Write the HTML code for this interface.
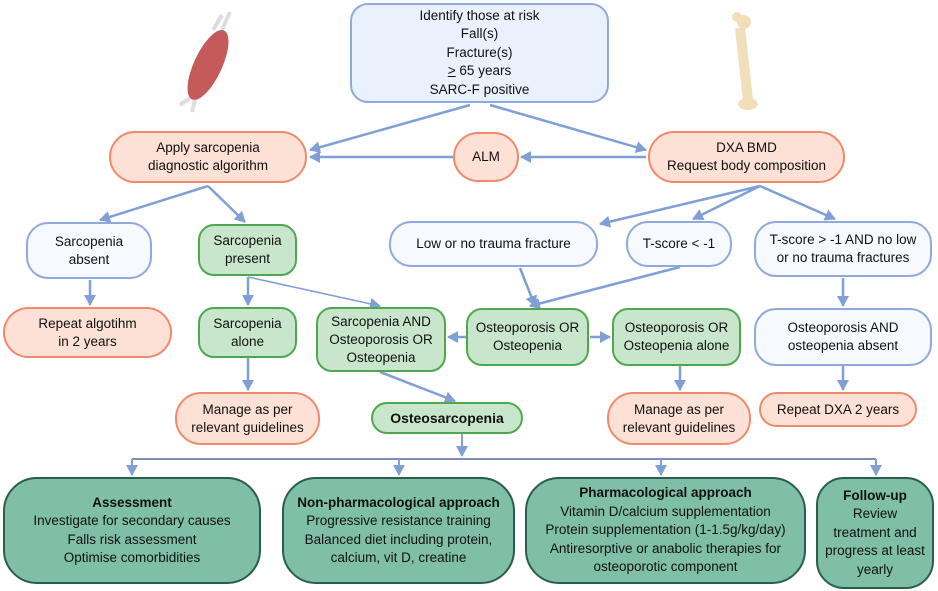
<!DOCTYPE html>
<html><head><meta charset="utf-8"><style>
body{margin:0;width:938px;height:591px;background:#fff;position:relative;overflow:hidden;font-family:"Liberation Sans",sans-serif;color:#111}
.b{position:absolute;box-sizing:border-box;display:flex;align-items:center;justify-content:center;text-align:center;font-size:13.5px;line-height:18px;border:2px solid}
.p{background:#fde0d6;border-color:#f08a6a;border-radius:26px}
.w{background:#f6f9fe;border-color:#8fa9dc;border-radius:22px}
.g{background:#c8e6cc;border-color:#4fa84f;border-radius:16px}
.d{background:#7fbfa8;border-color:#2a5e4b;border-radius:34px;line-height:18.5px}
svg{position:absolute;left:0;top:0}
</style></head><body>
<svg width="938" height="591">
<defs><marker id="a" markerWidth="12" markerHeight="12" refX="10" refY="6" orient="auto" markerUnits="userSpaceOnUse"><path d="M0,0L11,6L0,12z" fill="#7f9fd6"/></marker></defs>
<g stroke="#7f9fd6" stroke-width="2.5" fill="none" marker-end="url(#a)">
<path d="M470,105L310,150"/><path d="M490,105L646,150"/>
<path d="M453,157L310,157"/><path d="M646,157L521,157"/>
<path d="M208,186L100,220"/><path d="M208,186L245,222"/>
<path d="M760,186L600,224"/><path d="M760,186L693,219"/><path d="M760,186L835,219"/>
<path d="M90,280L90,305"/><path d="M248,277L248,305"/><path d="M248,358L248,390"/>
<path d="M680,267L530,306"/><path d="M520,268L535,306"/>
<path d="M590,337L610,337"/><path d="M466,337L448,337"/>
<path d="M680,366L680,390"/><path d="M843,278L843,306"/><path d="M843,366L843,390"/>
<path d="M380,372L455,401"/>
</g>
<path d="M248,277L380,306" stroke="#7f9fd6" stroke-width="1.5" fill="none" marker-end="url(#a)"/>
<path d="M462,434L462,456" stroke="#7f9fd6" stroke-width="2" marker-end="url(#a)"/>
<path d="M132,459H876" stroke="#2b4f8a" stroke-width="1.2"/>
<g stroke="#7f9fd6" stroke-width="2" marker-end="url(#a)"><path d="M132,459V475"/><path d="M399,459V475"/><path d="M661,459V475"/><path d="M876,459V475"/></g>
<path d="M213,30L222,15M230,12L222,30" stroke="#ddd" stroke-width="4"/>
<ellipse cx="208" cy="65" rx="14" ry="38" fill="#c45a5a" transform="rotate(25 208 65)"/>
<path d="M190,98L180,105M195,100L192,112" stroke="#ddd" stroke-width="4"/>
<path d="M740,28L748,100" stroke="#f0dfb8" stroke-width="10"/>
<circle cx="744" cy="22" r="7" fill="#f0dfb8"/><circle cx="737" cy="17" r="5" fill="#f0dfb8"/>
<ellipse cx="748" cy="104" rx="10" ry="6" fill="#f0dfb8"/>
</svg>
<div class="b w" style="left:350px;top:3px;width:259px;height:100px;background:#e9f1fc;border-radius:18px;line-height:18.5px"><div>Identify those at risk<br>Fall(s)<br>Fracture(s)<br><u>&gt;</u> 65 years<br>SARC-F positive</div></div>
<div class="b p" style="left:109px;top:131px;width:198px;height:52px">Apply sarcopenia<br>diagnostic algorithm</div>
<div class="b p" style="left:453px;top:132px;width:66px;height:50px">ALM</div>
<div class="b p" style="left:648px;top:131px;width:197px;height:52px">DXA BMD<br>Request body composition</div>
<div class="b w" style="left:26px;top:222px;width:126px;height:57px">Sarcopenia<br>absent</div>
<div class="b g" style="left:198px;top:224px;width:99px;height:52px">Sarcopenia<br>present</div>
<div class="b w" style="left:389px;top:221px;width:209px;height:46px">Low or no trauma fracture</div>
<div class="b w" style="left:626px;top:221px;width:106px;height:46px">T-score &lt; -1</div>
<div class="b w" style="left:754px;top:221px;width:178px;height:56px">T-score &gt; -1 AND no low<br>or no trauma fractures</div>
<div class="b p" style="left:3px;top:307px;width:169px;height:51px">Repeat algotihm<br>in 2 years</div>
<div class="b g" style="left:198px;top:307px;width:99px;height:51px">Sarcopenia<br>alone</div>
<div class="b g" style="left:316px;top:307px;width:130px;height:65px">Sarcopenia AND<br>Osteoporosis OR<br>Osteopenia</div>
<div class="b g" style="left:466px;top:308px;width:123px;height:58px">Osteoporosis OR<br>Osteopenia</div>
<div class="b g" style="left:612px;top:308px;width:129px;height:58px">Osteoporosis OR<br>Osteopenia alone</div>
<div class="b w" style="left:754px;top:308px;width:178px;height:58px">Osteoporosis AND<br>osteopenia absent</div>
<div class="b p" style="left:175px;top:392px;width:145px;height:53px">Manage as per<br>relevant guidelines</div>
<div class="b g" style="left:371px;top:402px;width:152px;height:32px;font-weight:bold;font-size:14px">Osteosarcopenia</div>
<div class="b p" style="left:607px;top:392px;width:144px;height:53px">Manage as per<br>relevant guidelines</div>
<div class="b p" style="left:759px;top:392px;width:158px;height:35px">Repeat DXA 2 years</div>
<div class="b d" style="left:3px;top:477px;width:258px;height:107px"><div><b>Assessment</b><br>Investigate for secondary causes<br>Falls risk assessment<br>Optimise comorbidities</div></div>
<div class="b d" style="left:282px;top:477px;width:233px;height:107px"><div><b>Non-pharmacological approach</b><br>Progressive resistance training<br>Balanced diet including protein,<br>calcium, vit D, creatine</div></div>
<div class="b d" style="left:525px;top:477px;width:281px;height:107px"><div><b>Pharmacological approach</b><br>Vitamin D/calcium supplementation<br>Protein supplementation (1-1.5g/kg/day)<br>Antiresorptive or anabolic therapies for<br>osteoporotic component</div></div>
<div class="b d" style="left:816px;top:477px;width:118px;height:112px;border-radius:28px"><div><b>Follow-up</b><br>Review<br>treatment and<br>progress at least<br>yearly</div></div>
</body></html>
